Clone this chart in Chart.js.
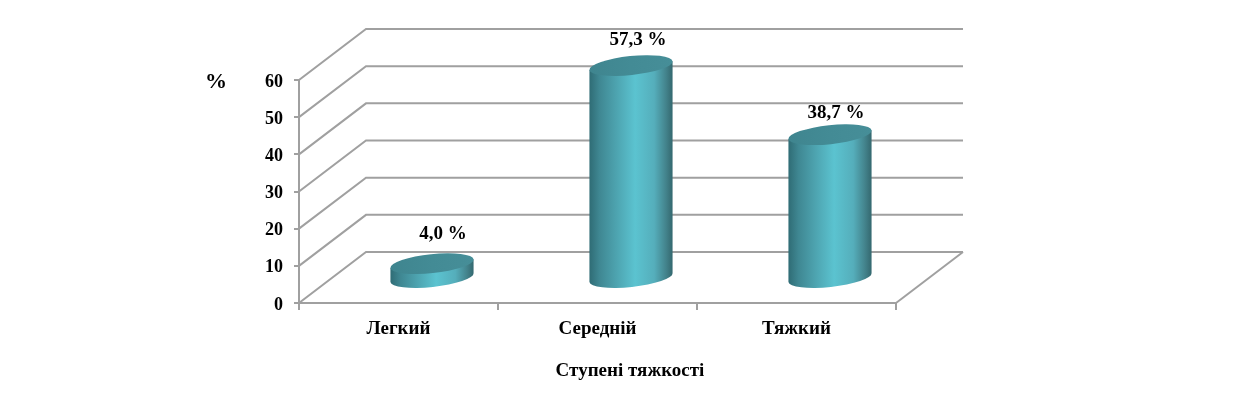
<!DOCTYPE html>
<html>
<head>
<meta charset="utf-8">
<style>html,body{margin:0;padding:0;background:#fff}canvas{display:block}</style>
<script src="https://cdn.jsdelivr.net/npm/chart.js@4/dist/chart.umd.min.js"></script>
</head>
<body>
<canvas id="c" width="1240" height="417"></canvas>
<script>
const categories = ["Легкий", "Середній", "Тяжкий"];
const values = [4.0, 57.3, 38.7];
const valueLabels = ["4,0 %", "57,3 %", "38,7 %"];
const yTicks = [0, 10, 20, 30, 40, 50, 60];
const yUnit = "%";
const xTitle = "Ступені тяжкості";

const FONT = '"Liberation Serif", serif';
const GRID = "#a0a0a0";
const DEPTH = { dx: 67, dy: 51 };

const wallPlugin = {
  id: "wall",
  beforeDatasetsDraw(chart) {
    const { ctx, scales: { x, y } } = chart;
    const l = x.left, r = x.right;
    ctx.save();
    ctx.strokeStyle = GRID;
    ctx.lineWidth = 2;
    yTicks.forEach(v => {
      const py = y.getPixelForValue(v);
      ctx.beginPath();
      ctx.moveTo(l, py);
      ctx.lineTo(l + DEPTH.dx, py - DEPTH.dy);
      ctx.lineTo(r + DEPTH.dx, py - DEPTH.dy);
      ctx.stroke();
    });
    const b = y.getPixelForValue(0);
    ctx.beginPath();
    ctx.moveTo(r, b);
    ctx.lineTo(r + DEPTH.dx, b - DEPTH.dy);
    ctx.stroke();
    ctx.restore();
  }
};

const cylinderPlugin = {
  id: "cylinder",
  afterDatasetsDraw(chart) {
    const { ctx } = chart;
    const rot = -6 * Math.PI / 180, ry = 9.5;
    const ox = DEPTH.dx / 2, oy = DEPTH.dy * 0.48;
    const labelShift = [[11, -30], [7, -25], [6, -22]];
    chart.getDatasetMeta(0).data.forEach((bar, i) => {
      const cx = bar.x + ox, top = bar.y - oy, base = bar.base - oy, rx = bar.width / 2;
      const ex = rx * Math.cos(rot), ey = rx * Math.sin(rot);
      const g = ctx.createLinearGradient(cx - ex, 0, cx + ex, 0);
      g.addColorStop(0, "#2f6c75");
      g.addColorStop(0.12, "#3f8792");
      g.addColorStop(0.32, "#4da3af");
      g.addColorStop(0.55, "#5bc3d0");
      g.addColorStop(0.78, "#55aebb");
      g.addColorStop(0.92, "#43838c");
      g.addColorStop(1, "#34686f");
      ctx.save();
      ctx.beginPath();
      ctx.moveTo(cx - ex, top - ey);
      ctx.lineTo(cx - ex, base - ey);
      ctx.ellipse(cx, base, rx, ry, rot, Math.PI, 0, true);
      ctx.lineTo(cx + ex, top + ey);
      ctx.closePath();
      ctx.fillStyle = g;
      ctx.fill();
      const t = ctx.createLinearGradient(cx - ex, 0, cx + ex, 0);
      t.addColorStop(0, "#3f858f");
      t.addColorStop(0.5, "#438b95");
      t.addColorStop(1, "#468e98");
      ctx.beginPath();
      ctx.ellipse(cx, top, rx, ry, rot, 0, Math.PI * 2);
      ctx.fillStyle = t;
      ctx.fill();
      ctx.fillStyle = "#000";
      ctx.font = "bold 19px " + FONT;
      ctx.textAlign = "center";
      ctx.textBaseline = "middle";
      ctx.fillText(valueLabels[i], cx + labelShift[i][0], top + labelShift[i][1]);
      ctx.restore();
    });
  }
};

const textPlugin = {
  id: "texts",
  afterDraw(chart) {
    const { ctx } = chart;
    ctx.save();
    ctx.fillStyle = "#000";
    ctx.textAlign = "center";
    ctx.textBaseline = "middle";
    ctx.font = "bold 22px " + FONT;
    ctx.fillText(yUnit, 216, 82);
    ctx.font = "bold 19px " + FONT;
    ctx.fillText(xTitle, 630, 371);
    ctx.restore();
  }
};

new Chart(document.getElementById("c"), {
  type: "bar",
  data: {
    labels: categories,
    datasets: [{
      data: values,
      backgroundColor: "rgba(0,0,0,0)",
      borderWidth: 0,
      categoryPercentage: 1,
      barPercentage: 0.42
    }]
  },
  plugins: [wallPlugin, cylinderPlugin, textPlugin],
  options: {
    responsive: false,
    animation: false,
    layout: { padding: { left: 249, right: 344, top: 80, bottom: 64 } },
    plugins: { legend: { display: false }, tooltip: { enabled: false }, title: { display: false } },
    scales: {
      x: {
        afterFit(s) { s.height = 50; },
        grid: { display: true, color: GRID, lineWidth: 2, drawOnChartArea: false, drawTicks: true, tickLength: 7, offset: true },
        border: { color: GRID, width: 2 },
        ticks: { color: "#000", font: { family: FONT, size: 19, weight: "bold" }, maxRotation: 0, padding: 8 }
      },
      y: {
        min: 0,
        max: 60,
        afterFit(s) { s.width = 50; },
        afterBuildTicks(s) { s.ticks = yTicks.map(v => ({ value: v })); },
        grid: { display: true, color: GRID, lineWidth: 2, drawOnChartArea: false, drawTicks: true, tickLength: 5 },
        border: { color: GRID, width: 2 },
        ticks: { color: "#000", font: { family: FONT, size: 18, weight: "bold" }, padding: 11, labelOffset: 2 }
      }
    }
  }
});
</script>
</body>
</html>
